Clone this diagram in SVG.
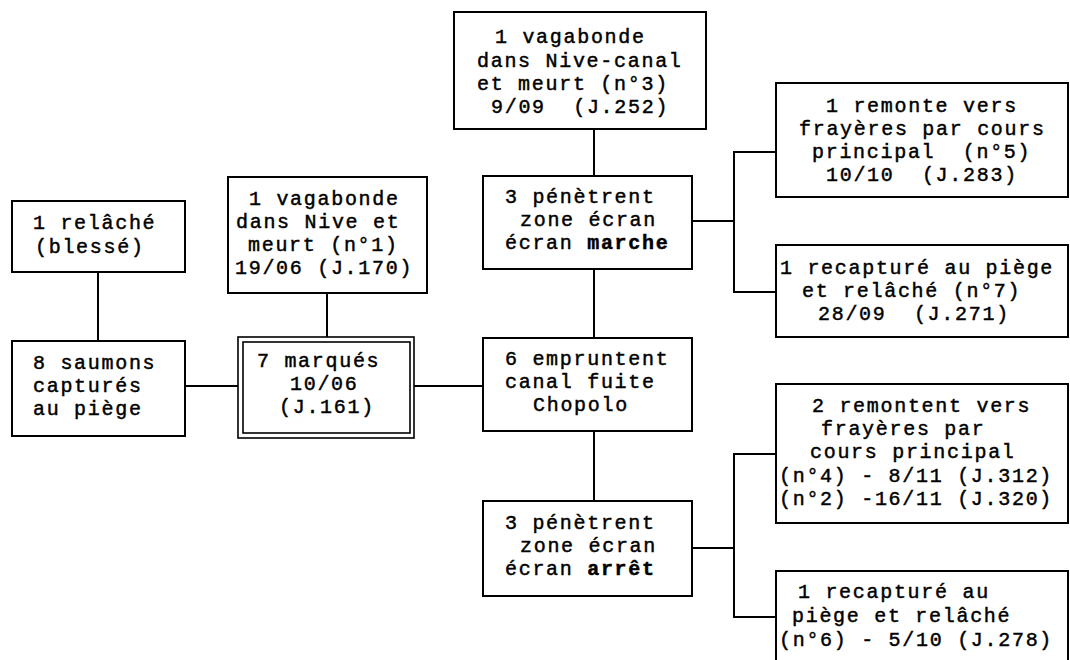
<svg xmlns="http://www.w3.org/2000/svg" width="1070" height="660" viewBox="0 0 1070 660">
<style>
.box{fill:#fff;stroke:#000;stroke-width:2}
.dbl{fill:none;stroke:#000;stroke-width:1.6}
.ln{fill:none;stroke:#000;stroke-width:2}
text{font-family:"Liberation Mono","DejaVu Sans Mono",monospace;font-size:20px;letter-spacing:1.7px;fill:#000;stroke:#000;stroke-width:0.45;white-space:pre}
.b{font-weight:bold}
</style>
<rect width="1070" height="660" fill="#fff"/>
<g id="connectors">
<path class="ln" d="M98 272V341"/>
<path class="ln" d="M327 293V337"/>
<path class="ln" d="M185 386H238"/>
<path class="ln" d="M414 386H483"/>
<path class="ln" d="M594 129V176"/>
<path class="ln" d="M594 269V338"/>
<path class="ln" d="M594 431V501"/>
<path class="ln" d="M692 221H734"/>
<path class="ln" d="M776 152H734V292H776"/>
<path class="ln" d="M692 548H734"/>
<path class="ln" d="M776 454H734V617H776"/>
</g>
<g id="n-relache">
<rect class="box" x="12" y="201" width="173" height="71"/>
<text x="33" y="229">1 relâché</text>
<text x="35" y="253">(blessé)</text>
</g>
<g id="n-saumons">
<rect class="box" x="12" y="341" width="173" height="95"/>
<text x="33" y="369">8 saumons</text>
<text x="33" y="392">capturés</text>
<text x="33" y="415">au piège</text>
</g>
<g id="n-marques">
<rect class="dbl" x="238" y="337" width="176" height="101"/>
<rect class="dbl" x="243" y="342" width="167" height="91"/>
<text x="257" y="367">7 marqués</text>
<text x="290" y="390">10/06</text>
<text x="279" y="413">(J.161)</text>
</g>
<g id="n-vagabonde1">
<rect class="box" x="228" y="177" width="199" height="116"/>
<text x="249" y="205">1 vagabonde</text>
<text x="236" y="228">dans Nive et</text>
<text x="248" y="251">meurt (n°1)</text>
<text x="235" y="274">19/06 (J.170)</text>
</g>
<g id="n-vagabonde3">
<rect class="box" x="454" y="12" width="252" height="117"/>
<text x="495" y="43">1 vagabonde</text>
<text x="477" y="67">dans Nive-canal</text>
<text x="477" y="90">et meurt (n°3)</text>
<text x="491" y="113">9/09  (J.252)</text>
</g>
<g id="n-marche">
<rect class="box" x="483" y="176" width="209" height="93"/>
<text x="505" y="203">3 pénètrent</text>
<text x="520" y="226">zone écran</text>
<text x="505" y="249">écran <tspan class="b">marche</tspan></text>
</g>
<g id="n-chopolo">
<rect class="box" x="483" y="338" width="209" height="93"/>
<text x="505" y="365">6 empruntent</text>
<text x="505" y="388">canal fuite</text>
<text x="533" y="411">Chopolo</text>
</g>
<g id="n-arret">
<rect class="box" x="483" y="501" width="209" height="95"/>
<text x="505" y="529">3 pénètrent</text>
<text x="520" y="552">zone écran</text>
<text x="505" y="575">écran <tspan class="b">arrêt</tspan></text>
</g>
<g id="n-remonte5">
<rect class="box" x="776" y="83" width="292" height="114"/>
<text x="826" y="112">1 remonte vers</text>
<text x="799" y="135">frayères par cours</text>
<text x="812" y="158">principal  (n°5)</text>
<text x="826" y="181">10/10  (J.283)</text>
</g>
<g id="n-recapture7">
<rect class="box" x="776" y="245" width="292" height="92"/>
<text x="780" y="274">1 recapturé au piège</text>
<text x="802" y="297">et relâché (n°7)</text>
<text x="818" y="320">28/09  (J.271)</text>
</g>
<g id="n-remontent">
<rect class="box" x="776" y="384" width="292" height="139"/>
<text x="812" y="412">2 remontent vers</text>
<text x="821" y="435">frayères par</text>
<text x="810" y="458">cours principal</text>
<text x="779" y="482">(n°4) - 8/11 (J.312)</text>
<text x="779" y="505">(n°2) -16/11 (J.320)</text>
</g>
<g id="n-recapture6">
<rect class="box" x="776" y="571" width="292" height="100"/>
<text x="798" y="598">1 recapturé au</text>
<text x="792" y="622">piège et relâché</text>
<text x="779" y="646">(n°6) - 5/10 (J.278)</text>
</g>
</svg>
